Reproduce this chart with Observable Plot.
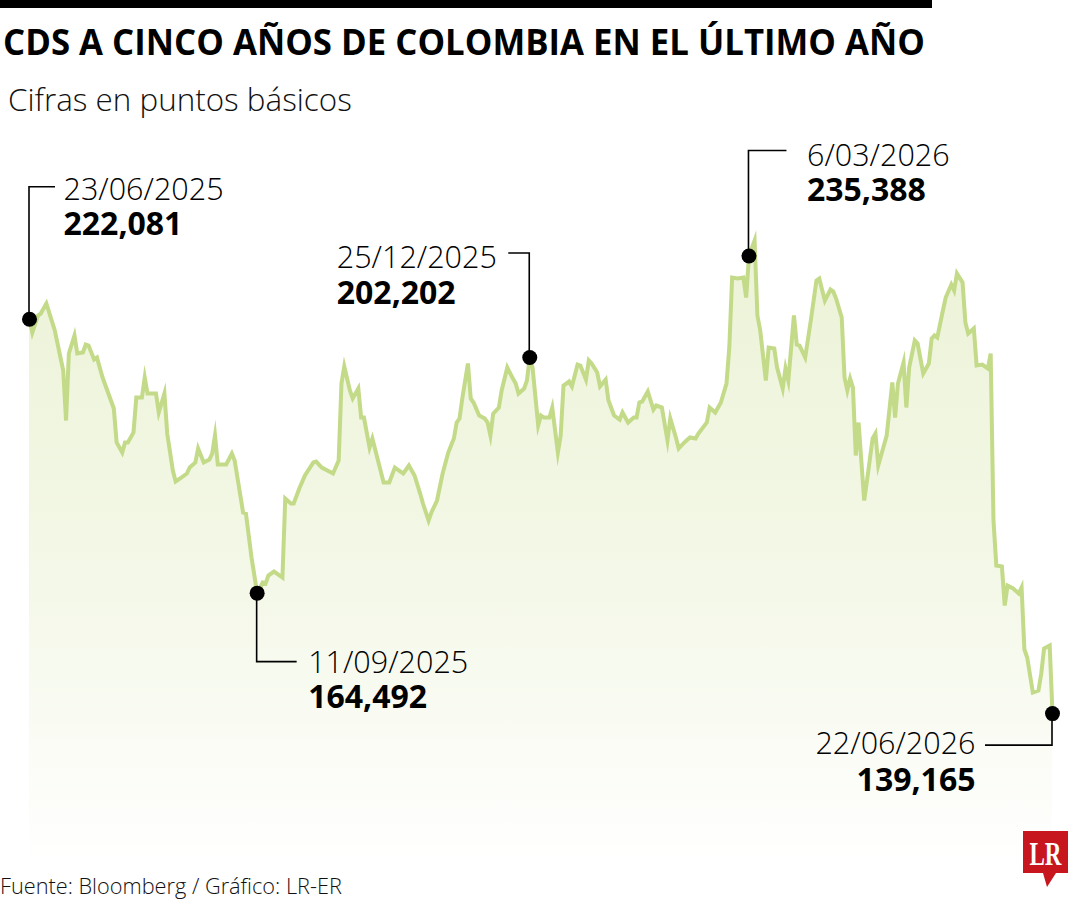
<!DOCTYPE html>
<html>
<head>
<meta charset="utf-8">
<script src="https://cdn.jsdelivr.net/npm/d3@7"></script>
<script src="https://cdn.jsdelivr.net/npm/@observablehq/plot@0.6"></script>
<style>
  html, body { margin: 0; padding: 0; background: #fff; }
  #page { position: relative; width: 1080px; height: 900px; overflow: hidden; background: #fff; }
  #header { position: relative; height: 130px; }
  #bar { position: absolute; left: 0; top: 0; width: 932px; height: 8px; background: #000; }
  #title { position: absolute; left: 3px; top: 24px; font-family: "Open Sans"; font-weight: 700; font-size: 35px; line-height: 1; white-space: nowrap; color: #000; transform-origin: 0 0; }
  #subtitle { position: absolute; left: 8px; top: 83px; font-family: "Open Sans"; font-weight: 300; font-size: 31px; line-height: 1; white-space: nowrap; color: #111; transform-origin: 0 0; }
  #chart svg { display: block; }
  #footer { position: relative; height: 30px; }
  #source { position: absolute; left: 0; top: 5px; font-family: "Open Sans"; font-weight: 300; font-size: 22px; line-height: 1; white-space: nowrap; color: #111; transform-origin: 0 0; }
  #logo { position: absolute; left: 1018px; top: 826px; }
</style>
</head>
<body>
<div id="page">
  <div id="header">
    <div id="bar"></div>
    <div id="title">CDS A CINCO AÑOS DE COLOMBIA EN EL ÚLTIMO AÑO</div>
    <div id="subtitle">Cifras en puntos básicos</div>
  </div>
  <div id="chart"></div>
  <div id="footer">
    <div id="source">Fuente: Bloomberg / Gráfico: LR-ER</div>
  </div>
  <svg id="logo" width="56" height="66" viewBox="0 0 56 66">
    <path d="M5 5 H50 V47 H38 L29 61 L25 47 H5 Z" fill="#c8161e"/>
    <text x="27.5" y="39" text-anchor="middle" font-family="Liberation Serif" font-weight="700" font-size="33" fill="#fff" textLength="32" lengthAdjust="spacingAndGlyphs">LR</text>
  </svg>
</div>
<script>
// ---- Data: CDS 5Y Colombia (basis points) ----
const dates = [
  "2025-06-23","2025-06-24","2025-06-26","2025-06-27","2025-06-29","2025-07-02","2025-07-05","2025-07-06","2025-07-07","2025-07-09",
  "2025-07-10","2025-07-12","2025-07-13","2025-07-14","2025-07-16","2025-07-17","2025-07-19","2025-07-23","2025-07-24","2025-07-26",
  "2025-07-27","2025-07-28","2025-07-30","2025-07-31","2025-08-02","2025-08-03","2025-08-04","2025-08-07","2025-08-08","2025-08-10",
  "2025-08-11","2025-08-13","2025-08-14","2025-08-16","2025-08-18","2025-08-19","2025-08-21","2025-08-22","2025-08-24","2025-08-26",
  "2025-08-27","2025-08-28","2025-08-29","2025-09-01","2025-09-03","2025-09-04","2025-09-07","2025-09-08","2025-09-10","2025-09-12",
  "2025-09-14","2025-09-15","2025-09-16","2025-09-18","2025-09-21","2025-09-22","2025-09-24","2025-09-25","2025-09-27","2025-09-29",
  "2025-10-02","2025-10-03","2025-10-05","2025-10-07","2025-10-09","2025-10-11","2025-10-12","2025-10-13","2025-10-15","2025-10-16",
  "2025-10-18","2025-10-19","2025-10-20","2025-10-22","2025-10-23","2025-10-25","2025-10-27","2025-10-29","2025-10-31","2025-11-02",
  "2025-11-03","2025-11-05","2025-11-07","2025-11-09","2025-11-10","2025-11-12","2025-11-13","2025-11-15","2025-11-17","2025-11-19",
  "2025-11-21","2025-11-22","2025-11-23","2025-11-24","2025-11-26","2025-11-27","2025-11-28","2025-11-30","2025-12-02","2025-12-03",
  "2025-12-04","2025-12-05","2025-12-07","2025-12-08","2025-12-10","2025-12-12","2025-12-13","2025-12-14","2025-12-16","2025-12-17",
  "2025-12-18","2025-12-19","2025-12-21","2025-12-22","2025-12-23","2025-12-25","2025-12-26","2025-12-28","2025-12-29","2025-12-30",
  "2026-01-01","2026-01-02","2026-01-04","2026-01-05","2026-01-07","2026-01-08","2026-01-09","2026-01-11","2026-01-12","2026-01-14",
  "2026-01-15","2026-01-17","2026-01-19","2026-01-20","2026-01-22","2026-01-24","2026-01-25","2026-01-26","2026-01-27","2026-01-29",
  "2026-01-31","2026-02-01","2026-02-03","2026-02-05","2026-02-06","2026-02-08","2026-02-09","2026-02-11","2026-02-13","2026-02-15",
  "2026-02-16","2026-02-19","2026-02-20","2026-02-22","2026-02-24","2026-02-26","2026-02-27","2026-02-28","2026-03-02","2026-03-04",
  "2026-03-05","2026-03-06","2026-03-08","2026-03-09","2026-03-10","2026-03-12","2026-03-13","2026-03-15","2026-03-16","2026-03-18",
  "2026-03-19","2026-03-20","2026-03-22","2026-03-23","2026-03-24","2026-03-26","2026-03-28","2026-03-30","2026-03-31","2026-04-02",
  "2026-04-04","2026-04-05","2026-04-06","2026-04-08","2026-04-09","2026-04-10","2026-04-11","2026-04-12","2026-04-13","2026-04-14",
  "2026-04-16","2026-04-17","2026-04-19","2026-04-20","2026-04-21","2026-04-23","2026-04-24","2026-04-26","2026-04-27","2026-04-28",
  "2026-04-30","2026-05-01","2026-05-02","2026-05-04","2026-05-05","2026-05-07","2026-05-09","2026-05-10","2026-05-11","2026-05-12",
  "2026-05-14","2026-05-15","2026-05-17","2026-05-18","2026-05-19","2026-05-21","2026-05-22","2026-05-23","2026-05-25","2026-05-26",
  "2026-05-28","2026-05-30","2026-05-31","2026-06-01","2026-06-02","2026-06-04","2026-06-05","2026-06-06","2026-06-08","2026-06-10",
  "2026-06-11","2026-06-12","2026-06-13","2026-06-15","2026-06-17","2026-06-18","2026-06-19","2026-06-21","2026-06-22"
];
const values = [
  222.08,219.30,222.87,223.29,225.39,219.72,211.31,200.79,214.88,218.67,
  214.88,215.09,216.77,216.56,213.62,214.04,209.83,203.32,196.17,194.06,
  196.17,196.17,198.27,205.63,205.63,209.83,206.47,206.47,202.48,206.47,
  198.06,190.28,187.97,188.81,189.65,190.91,191.96,194.91,191.96,192.59,
  193.85,197.64,191.54,191.54,193.85,192.38,181.45,181.24,171.99,164.49,
  166.73,166.52,168.20,169.04,167.78,184.39,183.34,183.34,186.50,189.23,
  191.96,192.17,190.91,190.28,189.65,192.38,208.57,212.15,207.10,205.42,
  207.52,201.42,201.42,195.12,197.01,192.38,187.76,187.76,190.91,190.07,
  189.65,191.33,189.23,185.44,183.34,179.77,181.45,183.97,189.65,194.06,
  197.01,200.37,201.21,205.42,212.78,205.42,204.58,201.84,201.21,200.37,
  197.64,202.26,203.53,207.10,211.94,209.62,208.57,206.47,207.52,209.20,
  214.04,211.94,199.74,201.84,201.42,201.42,203.53,194.06,197.64,208.15,
  208.99,207.94,212.57,212.36,209.41,213.41,212.78,210.89,207.94,209.41,
  205.00,201.84,201.00,202.48,200.37,201.42,201.42,204.58,204.79,206.89,
  203.11,203.95,203.53,196.59,201.21,197.22,194.91,196.17,197.22,197.01,
  198.06,200.37,203.53,202.48,204.58,208.57,216.14,230.86,230.65,230.86,
  226.65,235.39,238.64,222.87,219.72,209.20,216.14,215.93,211.94,207.52,
  211.73,209.20,222.87,216.77,216.56,214.04,221.82,230.23,230.65,226.02,
  228.34,227.92,226.44,222.45,209.83,207.10,209.62,207.73,193.43,200.37,
  183.97,188.18,197.01,198.06,191.33,195.54,197.64,208.78,201.42,208.57,
  212.99,203.53,211.94,217.61,216.98,210.68,212.78,218.03,218.67,218.24,
  223.92,226.65,229.39,228.13,231.70,229.81,221.40,219.09,220.14,212.36,
  212.57,211.73,214.88,179.77,170.31,170.10,161.89,166.10,165.47,164.42,
  165.68,152.64,150.96,143.60,144.02,147.60,152.85,153.48,139.17
];

// Annotated points
const annDates = ["2025-06-23","2025-09-12","2025-12-18","2026-03-06","2026-06-22"];
const annDateLabels = ["23/06/2025","11/09/2025","25/12/2025","6/03/2026","22/06/2026"];
const annValueLabels = ["222,081","164,492","202,202","235,388","139,165"];

// ---- Layout (pixel offsets of callouts, not data) ----
const calloutLayout = [
  {leaderDy: -132, leaderDx: 26,  dx: 34,   dy: -84, gap: 35, anchor: "start"},
  {leaderDy: 69,   leaderDx: 40,  dx: 51,   dy: 115, gap: 35, anchor: "start"},
  {leaderDy: -104, leaderDx: -21, dx: -193, dy: -54, gap: 36, anchor: "start"},
  {leaderDy: -105, leaderDx: 38,  dx: 58,   dy: -55, gap: 35, anchor: "start"},
  {leaderDy: 32,   leaderDx: -67, dx: -77,  dy: 77,  gap: 37, anchor: "end"}
];

const series = dates.map((d, i) => ({date: new Date(d), value: values[i]}));
const ann = annDates.map((d, i) => {
  const p = series.find(s => +s.date === +new Date(d));
  return {date: p.date, value: p.value, label: annDateLabels[i] + "\n" + annValueLabels[i]};
});

const yBase = 107;
const lineColor = "#c3da88";
const dateSize = 30.5, valueSize = 32;

// one two-line label per callout: date (light) above value (bold)
const textMarks = ann.map((a, i) => {
  const L = calloutLayout[i];
  return Plot.text([a], {x: "date", y: "value", text: "label", dx: L.dx, dy: L.dy, textAnchor: L.anchor,
    lineAnchor: "bottom", lineHeight: L.gap / dateSize,
    fontFamily: "Open Sans", fontSize: dateSize, fontWeight: 300, fill: "#000"});
});

const chart = Plot.plot({
  width: 1080,
  height: 740,
  margin: 0,
  x: {type: "utc", domain: [new Date("2025-06-23"), new Date("2026-06-22")], range: [29, 1052], axis: null},
  y: {domain: [yBase, 239], range: [736.1, 108.3], axis: null},
  style: {background: "transparent", overflow: "visible"},
  marks: [
    Plot.areaY(series, {x: "date", y1: yBase, y2: "value", fill: "url(#cdsFill)"}),
    Plot.lineY(series, {x: "date", y: "value", stroke: lineColor, strokeWidth: 4, strokeLinejoin: "miter", strokeMiterlimit: 8}),
    Plot.dot(ann, {x: "date", y: "value", r: 7.5, fill: "#000", stroke: "none"}),
    ...textMarks
  ]
});

document.getElementById("chart").appendChild(chart);

// second line of each label: bold value, fixed gap
chart.querySelectorAll('g[aria-label="text"]').forEach((g, i) => {
  const L = calloutLayout[i];
  g.querySelectorAll("text").forEach(t => {
    const spans = t.querySelectorAll("tspan");
    if (spans.length === 2) {
      spans[0].setAttribute("y", -L.gap);
      spans[1].removeAttribute("y");
      spans[1].setAttribute("dy", L.gap);
      spans[1].setAttribute("font-weight", 700);
      spans[1].setAttribute("font-size", valueSize);
    }
  });
});

// gradient for the area
const svg = d3.select(chart);
const defs = svg.insert("defs", ":first-child");
const grad = defs.append("linearGradient").attr("id", "cdsFill").attr("x1", 0).attr("y1", 0).attr("x2", 0).attr("y2", 1);
grad.append("stop").attr("offset", "0%").attr("stop-color", "#ecf3d7");
grad.append("stop").attr("offset", "55%").attr("stop-color", "#f4f8e8");
grad.append("stop").attr("offset", "100%").attr("stop-color", "#ffffff");

// callout leaders, positioned with Plot's own scales
const xs = chart.scale("x"), ys = chart.scale("y");
const fx = xs.apply ? (v => xs.apply(v)) : d3.scaleUtc(xs.domain, xs.range);
const fy = ys.apply ? (v => ys.apply(v)) : d3.scaleLinear(ys.domain, ys.range);
const dotG = chart.querySelector('g[aria-label="dot"]');
const leaders = document.createElementNS("http://www.w3.org/2000/svg", "g");
chart.insertBefore(leaders, dotG);
ann.forEach((a, i) => {
  const L = calloutLayout[i];
  const px = fx(a.date), py = fy(a.value);
  d3.select(leaders).append("path")
    .attr("d", `M${px},${py}V${py + L.leaderDy}H${px + L.leaderDx}`)
    .attr("fill", "none").attr("stroke", "#000").attr("stroke-width", 1.6);
});

// fit header/footer text widths to the reference
function fit() {
  const scaleTo = (id, w) => {
    const el = document.getElementById(id);
    el.style.transform = "none";
    const cw = el.getBoundingClientRect().width;
    if (cw > 0) el.style.transform = `scaleX(${w / cw})`;
  };
  const sizeTo = (id, w, base) => {
    const el = document.getElementById(id);
    el.style.fontSize = base + "px";
    const cw = el.getBoundingClientRect().width;
    if (cw > 0) el.style.fontSize = (base * w / cw).toFixed(2) + "px";
  };
  scaleTo("title", 922);
  sizeTo("subtitle", 344, 31);
  sizeTo("source", 342, 22);
}
fit();
if (document.fonts && document.fonts.ready) document.fonts.ready.then(fit);
</script>
</body>
</html>
